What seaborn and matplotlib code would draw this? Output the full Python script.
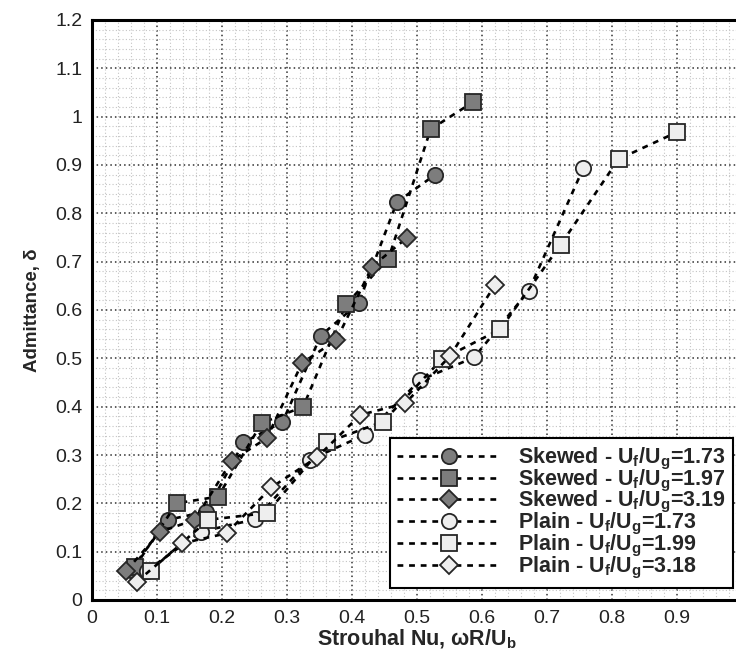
import matplotlib
matplotlib.use("Agg")
import matplotlib.pyplot as plt
from matplotlib.ticker import MultipleLocator, FuncFormatter
import pandas as pd
import seaborn as sns

# Skewed configuration
skew_173_x = [0.060, 0.117, 0.176, 0.233, 0.293, 0.352, 0.410, 0.469, 0.528]
skew_173_y = [0.062, 0.166, 0.183, 0.326, 0.368, 0.547, 0.614, 0.823, 0.880]
skew_197_x = [0.066, 0.130, 0.194, 0.261, 0.325, 0.391, 0.456, 0.521, 0.586]
skew_197_y = [0.068, 0.200, 0.214, 0.366, 0.400, 0.612, 0.706, 0.974, 1.030]
skew_319_x = [0.053, 0.105, 0.158, 0.215, 0.269, 0.323, 0.376, 0.431, 0.485]
skew_319_y = [0.061, 0.141, 0.166, 0.288, 0.335, 0.490, 0.538, 0.690, 0.750]

# Plain configuration
plain_173_x = [0.084, 0.167, 0.251, 0.335, 0.420, 0.505, 0.588, 0.672, 0.756]
plain_173_y = [0.060, 0.141, 0.167, 0.290, 0.342, 0.455, 0.502, 0.640, 0.894]
plain_199_x = [0.090, 0.179, 0.269, 0.361, 0.448, 0.538, 0.628, 0.721, 0.810, 0.900]
plain_199_y = [0.061, 0.166, 0.180, 0.326, 0.369, 0.498, 0.560, 0.735, 0.912, 0.968]
plain_318_x = [0.069, 0.138, 0.207, 0.276, 0.346, 0.413, 0.482, 0.551, 0.620]
plain_318_y = [0.038, 0.117, 0.138, 0.233, 0.295, 0.383, 0.407, 0.505, 0.652]

series_labels = [
    r"Skewed - U$_\mathbf{f}$/U$_\mathbf{g}$=1.73",
    r"Skewed - U$_\mathbf{f}$/U$_\mathbf{g}$=1.97",
    r"Skewed - U$_\mathbf{f}$/U$_\mathbf{g}$=3.19",
    r"Plain - U$_\mathbf{f}$/U$_\mathbf{g}$=1.73",
    r"Plain - U$_\mathbf{f}$/U$_\mathbf{g}$=1.99",
    r"Plain - U$_\mathbf{f}$/U$_\mathbf{g}$=3.18",
]

sns.set_theme(style="white")
plt.rcParams["font.family"] = ["Liberation Sans", "DejaVu Sans"]
plt.rcParams["mathtext.fontset"] = "custom"
plt.rcParams["mathtext.rm"] = "Liberation Sans"
plt.rcParams["mathtext.bf"] = "Liberation Sans:bold"

fig = plt.figure(figsize=(7.36, 6.57), dpi=100)
W, H = 736, 657
ax = fig.add_axes([92 / W, (H - 600) / H, 650 / W, 580 / H])

dark_fill = "#7d7d7d"
light_fill = "#eeeeee"
edge = "#262626"

series = [
    (skew_173_x, skew_173_y, "o", 11, dark_fill),
    (skew_197_x, skew_197_y, "s", 11, dark_fill),
    (skew_319_x, skew_319_y, "D", 8.8, dark_fill),
    (plain_173_x, plain_173_y, "o", 11, light_fill),
    (plain_199_x, plain_199_y, "s", 11, light_fill),
    (plain_318_x, plain_318_y, "D", 8.8, light_fill),
]

for i, ((xs, ys, mk, ms, fc), lab) in enumerate(zip(series, series_labels)):
    df = pd.DataFrame({"St": xs, "adm": ys})
    sns.lineplot(
        data=df, x="St", y="adm", ax=ax, sort=False, estimator=None,
        color="black", linewidth=1.9, linestyle=(0, (2.2, 2.2)),
        marker=mk, markersize=ms, markerfacecolor=fc,
        markeredgecolor=edge, markeredgewidth=1.3,
        label=lab, legend=False, zorder=3 + i,
    )

ax.set_xlim(0, 1.0)
ax.set_ylim(0, 1.2)
ax.xaxis.set_major_locator(MultipleLocator(0.1))
ax.xaxis.set_minor_locator(MultipleLocator(0.02))
ax.yaxis.set_major_locator(MultipleLocator(0.1))
ax.yaxis.set_minor_locator(MultipleLocator(0.02))
fmt = FuncFormatter(lambda v, p: f"{round(v, 2):g}")
ax.xaxis.set_major_formatter(fmt)
ax.yaxis.set_major_formatter(fmt)

ax.set_axisbelow(True)
ax.grid(which="major", linestyle=(0, (1, 2)), color="#303030", linewidth=1.1)
ax.grid(which="minor", linestyle=(0, (1, 2)), color="#c4c4c4", linewidth=0.8)

for side in ["left", "bottom", "top", "right"]:
    ax.spines[side].set_color("black")
    ax.spines[side].set_linewidth(2.2)

ax.tick_params(which="major", direction="in", length=9, width=2.2,
               top=False, right=False, labelsize=14, pad=7, colors="black")
ax.tick_params(which="minor", direction="in", length=4.5, width=1.2,
               top=False, right=False, colors="black")
for lbl in ax.get_xticklabels() + ax.get_yticklabels():
    lbl.set_color("#222222")

ax.set_xlabel(r"Strouhal Nu, ωR/U$_\mathbf{b}$", fontsize=15.5,
              fontweight="bold", labelpad=1)
ax.set_ylabel("Admittance, δ", fontsize=13.5, fontweight="bold", labelpad=10)

leg = ax.legend(
    loc="lower right", bbox_to_anchor=(0.986, 0.02), borderaxespad=0,
    prop={"weight": "bold", "size": 15.5},
    handlelength=4.8, handletextpad=0.8, borderpad=0.35,
    labelspacing=-0.2, numpoints=1, frameon=True, fancybox=False,
    framealpha=1.0,
)
leg.get_frame().set_edgecolor("black")
leg.get_frame().set_linewidth(1.5)
leg.set_zorder(20)

fig.savefig("out.png", dpi=100)
